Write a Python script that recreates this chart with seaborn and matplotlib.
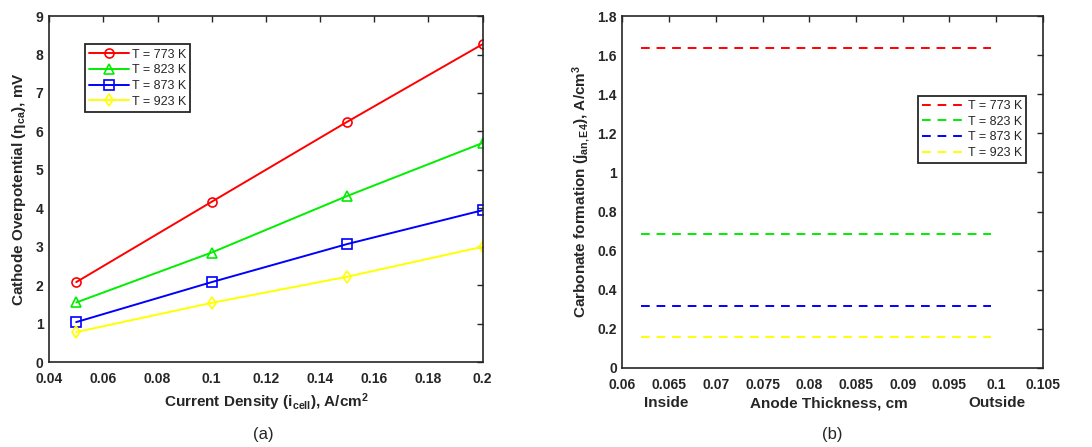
import numpy as np
import pandas as pd
import matplotlib
matplotlib.use("Agg")
import matplotlib.pyplot as plt
import seaborn as sns

# ─────────────────────────────────────────────
# DATA
# ─────────────────────────────────────────────
labels = ["T = 773 K", "T = 823 K", "T = 873 K", "T = 923 K"]
colors = ["#ff0000", "#00ee00", "#0000ff", "#ffff00"]
markers = ["o", "^", "s", "d"]

# (a) cathode overpotential vs current density
current_density = [0.05, 0.10, 0.15, 0.20]
eta_773 = [2.08, 4.17, 6.25, 8.27]
eta_823 = [1.55, 2.85, 4.32, 5.70]
eta_873 = [1.04, 2.08, 3.07, 3.95]
eta_923 = [0.78, 1.54, 2.22, 3.00]

# (b) carbonate formation along anode thickness (constant)
thickness = [0.062, 0.0995]
j_773 = [1.635, 1.635]
j_823 = [0.683, 0.683]
j_873 = [0.315, 0.315]
j_923 = [0.158, 0.158]

df_a = pd.DataFrame({
    "x": current_density * 4,
    "y": eta_773 + eta_823 + eta_873 + eta_923,
    "T": np.repeat(labels, len(current_density)),
})
df_b = pd.DataFrame({
    "x": thickness * 4,
    "y": j_773 + j_823 + j_873 + j_923,
    "T": np.repeat(labels, len(thickness)),
})

# ─────────────────────────────────────────────
# STYLE
# ─────────────────────────────────────────────
sns.set_style("white")
plt.rcParams["font.family"] = ["Liberation Sans", "DejaVu Sans"]
plt.rcParams["mathtext.fontset"] = "custom"
plt.rcParams["mathtext.rm"] = "Liberation Sans:bold"
plt.rcParams["mathtext.it"] = "Liberation Sans:bold"
plt.rcParams["mathtext.default"] = "rm"

fig = plt.figure(figsize=(10.92, 4.47), dpi=100)
ax1 = fig.add_axes([0.045, 0.190, 0.397, 0.774])
ax2 = fig.add_axes([0.570, 0.177, 0.385, 0.787])

palette = dict(zip(labels, colors))
DASH = [4.5, 3.5]

# (a)
sns.lineplot(data=df_a, x="x", y="y", hue="T", style="T", palette=palette,
             markers=dict(zip(labels, markers)), dashes=False,
             markersize=6.5, markeredgewidth=1.2,
             linewidth=1.4, ax=ax1)
for line, c in zip(ax1.lines, colors):
    line.set_markeredgecolor(c)
    line.set_markerfacecolor("none")

ax1.set_xlim(0.04, 0.2)
ax1.set_ylim(0, 9)
ax1.set_xticks(np.arange(0.04, 0.201, 0.02))
ax1.set_xticklabels(["0.04", "0.06", "0.08", "0.1", "0.12", "0.14", "0.16", "0.18", "0.2"])
ax1.set_yticks(range(0, 10))
ax1.set_xlabel(r"Current Density (i$_{cell}$), A/cm$^{2}$", fontsize=11, fontweight="bold")
ax1.set_ylabel(r"Cathode Overpotential ($\eta_{ca}$), mV", fontsize=11, fontweight="bold")

leg1 = ax1.legend(loc="upper left", bbox_to_anchor=(0.068, 0.937), fontsize=9,
                  handlelength=3.2, handletextpad=0.2, borderpad=0.35,
                  labelspacing=0.3, fancybox=False, framealpha=1)
for h, c in zip(leg1.get_lines(), colors):
    h.set_markerfacecolor("none")
    h.set_markeredgecolor(c)

# (b)
sns.lineplot(data=df_b, x="x", y="y", hue="T", palette=palette,
             linewidth=1.4, ax=ax2)
for line in ax2.lines:
    line.set_dashes(DASH)

ax2.set_xlim(0.06, 0.105)
ax2.set_ylim(0, 1.8)
ax2.set_xticks(np.arange(0.06, 0.1051, 0.005))
ax2.set_xticklabels(["0.06", "0.065", "0.07", "0.075", "0.08", "0.085", "0.09",
                     "0.095", "0.1", "0.105"])
ax2.set_yticks(np.round(np.arange(0, 1.81, 0.2), 1))
ax2.set_yticklabels(["0", "0.2", "0.4", "0.6", "0.8", "1", "1.2", "1.4", "1.6", "1.8"])
ax2.set_xlabel("")
ax2.set_ylabel(r"Carbonate formation (j$_{an,E4}$), A/cm$^{3}$", fontsize=11, fontweight="bold")
xt = ax2.get_xaxis_transform()
ax2.text(0.0647, -0.10, "Inside", transform=xt, ha="center", va="center",
         fontsize=11, fontweight="bold")
ax2.text(0.0821, -0.10, "Anode Thickness, cm", transform=xt, ha="center", va="center",
         fontsize=11, fontweight="bold")
ax2.text(0.1001, -0.10, "Outside", transform=xt, ha="center", va="center",
         fontsize=11, fontweight="bold")

leg2 = ax2.legend(loc="upper left", bbox_to_anchor=(0.688, 0.79), fontsize=9,
                  handlelength=3.6, handletextpad=0.1, borderpad=0.3,
                  labelspacing=0.3, fancybox=False, framealpha=1)
for h in leg2.get_lines():
    h.set_dashes(DASH)

for ax in (ax1, ax2):
    ax.tick_params(direction="in", length=4, width=1, top=True, right=True,
                   labelsize=10, colors="#262626")
    ax.tick_params(axis="x", pad=7)
    ax.tick_params(axis="y", pad=4)
    for lab in ax.get_xticklabels() + ax.get_yticklabels():
        lab.set_fontweight("bold")
    for s in ax.spines.values():
        s.set_color("#262626")
        s.set_linewidth(1.2)
    leg = ax.get_legend()
    leg.get_frame().set_edgecolor("#262626")
    leg.get_frame().set_linewidth(1.3)
    leg.set_title(None)

ax1.yaxis.labelpad = 6
ax1.xaxis.labelpad = 4

fig.text(263 / 1092, 1 - 434 / 447, "(a)", ha="center", va="center", fontsize=12)
fig.text(832 / 1092, 1 - 434 / 447, "(b)", ha="center", va="center", fontsize=12)

fig.savefig("out.png", dpi=100)
